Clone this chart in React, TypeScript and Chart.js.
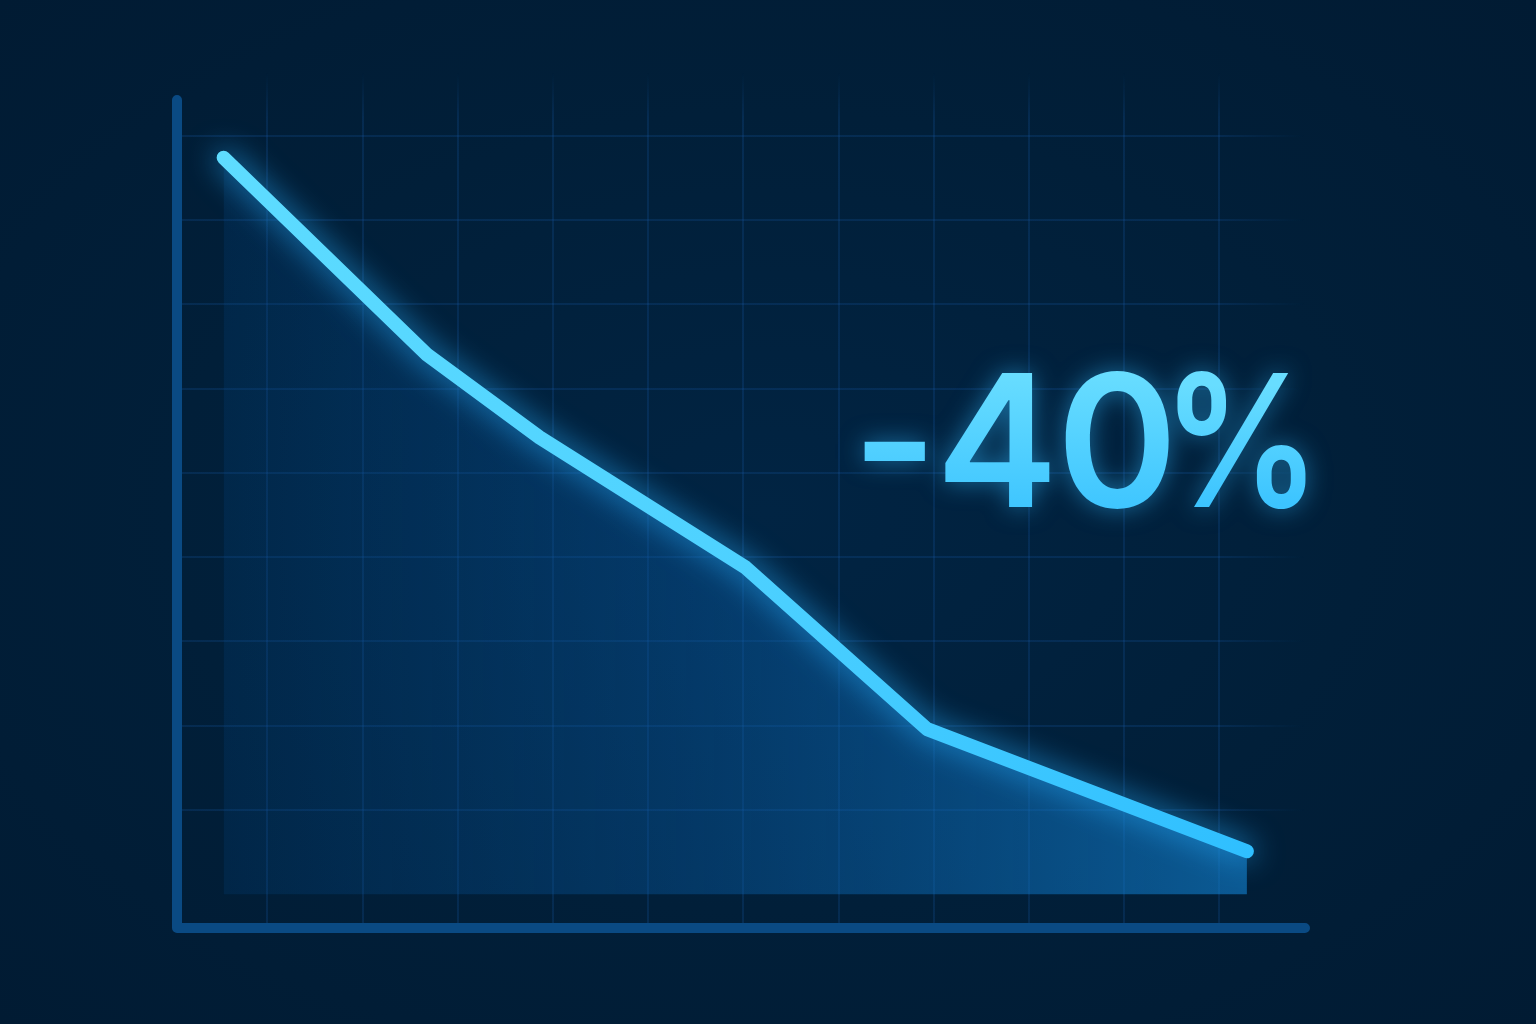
import { useEffect, useRef } from 'react';
import Chart from 'chart.js/auto';

// grid units: x step ~95px, y step ~84px
const xValues = [-0.46, 1.68, 2.86, 5.02, 6.93, 10.29];
const yValues = [8.74, 6.4, 5.42, 3.88, 1.96, 0.51];
const headlineValue = '-40';
const headlineUnit = '%';

const BG = '#011f39';

const glowPlugin = {
  id: 'glow',
  beforeDatasetDraw(chart: any) {
    const ctx = chart.ctx;
    ctx.save();
    ctx.shadowColor = 'rgba(40, 175, 255, 0.8)';
    ctx.shadowBlur = 30;
  },
  afterDatasetDraw(chart: any) {
    chart.ctx.restore();
  },
};

const axesPlugin = {
  id: 'axes',
  beforeDatasetsDraw(chart: any) {
    const { ctx, chartArea } = chart;
    const { left, right, bottom } = chartArea;
    ctx.save();
    ctx.strokeStyle = '#0a4a83';
    ctx.lineWidth = 10;
    ctx.lineCap = 'round';
    ctx.lineJoin = 'round';
    ctx.beginPath();
    ctx.moveTo(left, 100);
    ctx.lineTo(left, bottom);
    ctx.lineTo(right, bottom);
    ctx.stroke();
    ctx.restore();
  },
};

const App = () => {
  const chartRef = useRef<HTMLCanvasElement>(null);
  const chartInstance = useRef<Chart | null>(null);

  useEffect(() => {
    if (!chartRef.current) return;
    const ctx = chartRef.current.getContext('2d');
    if (!ctx) return;

    if (chartInstance.current) {
      chartInstance.current.destroy();
    }

    const points = xValues.map((x, i) => ({ x, y: yValues[i] }));

    chartInstance.current = new Chart(ctx, {
      type: 'line',
      data: {
        datasets: [{
          data: points,
          borderWidth: 14,
          borderCapStyle: 'round',
          borderJoinStyle: 'round',
          tension: 0,
          pointRadius: 0,
          fill: { value: 0 },
          borderColor: (c: any) => {
            const area = c.chart.chartArea;
            if (!area) return '#45cfff';
            const g = c.chart.ctx.createLinearGradient(220, 150, 1250, 860);
            g.addColorStop(0, '#5edcff');
            g.addColorStop(0.5, '#4fd2ff');
            g.addColorStop(1, '#2fbfff');
            return g;
          },
          backgroundColor: (c: any) => {
            const area = c.chart.chartArea;
            if (!area) return 'rgba(10,90,160,0.4)';
            const g = c.chart.ctx.createLinearGradient(214, 0, 1252, 0);
            g.addColorStop(0, 'rgba(5, 75, 140, 0.2)');
            g.addColorStop(0.45, 'rgba(10, 95, 170, 0.38)');
            g.addColorStop(1, 'rgba(18, 128, 206, 0.62)');
            return g;
          },
        }],
      },
      options: {
        responsive: false,
        animation: false,
        layout: {
          padding: { left: 177, top: 73, right: 231, bottom: 96 },
        },
        plugins: {
          legend: { display: false },
          tooltip: { enabled: false },
        },
        scales: {
          x: {
            type: 'linear',
            min: -0.95,
            max: 10.9,
            ticks: { display: false, stepSize: 1, includeBounds: false },
            border: { display: false },
            grid: {
              drawTicks: false,
              lineWidth: 2,
              color: (c: any) => {
                const area = c.chart.chartArea;
                if (!area) return 'rgba(25,90,170,0.22)';
                const g = c.chart.ctx.createLinearGradient(0, area.top, 0, area.top + 45);
                g.addColorStop(0, 'rgba(25, 90, 170, 0)');
                g.addColorStop(1, 'rgba(25, 90, 170, 0.22)');
                return g;
              },
            },
          },
          y: {
            type: 'linear',
            min: -0.4,
            max: 9.745,
            ticks: { display: false, stepSize: 1, includeBounds: false },
            border: { display: false },
            grid: {
              drawTicks: false,
              lineWidth: 2,
              color: (c: any) => {
                if (c.tick && c.tick.value === 0) return 'rgba(0,0,0,0)';
                const area = c.chart.chartArea;
                if (!area) return 'rgba(25,90,170,0.22)';
                const g = c.chart.ctx.createLinearGradient(area.right - 90, 0, area.right, 0);
                g.addColorStop(0, 'rgba(25, 90, 170, 0.22)');
                g.addColorStop(1, 'rgba(25, 90, 170, 0)');
                return g;
              },
            },
          },
        },
      },
      plugins: [axesPlugin, glowPlugin],
    });

    return () => {
      if (chartInstance.current) {
        chartInstance.current.destroy();
        chartInstance.current = null;
      }
    };
  }, []);

  return (
    <div
      style={{
        position: 'fixed',
        inset: 0,
        background: `radial-gradient(ellipse at 50% 50%, #012443 0%, ${BG} 55%, #011b33 100%)`,
        overflow: 'hidden',
      }}
    >
      <canvas
        ref={chartRef}
        width={1536}
        height={1024}
        style={{ position: 'absolute', left: 0, top: 0, width: 1536, height: 1024 }}
      />
      <div
        style={{
          position: 'absolute',
          left: 852,
          top: 348,
          fontFamily: 'Inter, "Noto Sans", sans-serif',
          fontWeight: 600,
          fontSize: 184,
          lineHeight: 1,
          letterSpacing: '-0.01em',
          whiteSpace: 'nowrap',
          filter: 'drop-shadow(0 0 12px rgba(50, 185, 255, 0.5))',
        }}
      >
        <span
          style={{
            background: 'linear-gradient(180deg, #68ddff 20%, #3cc4ff 85%)',
            WebkitBackgroundClip: 'text',
            backgroundClip: 'text',
            color: 'transparent',
          }}
        >
          {headlineValue}
        </span>
        <span
          style={{
            display: 'inline-block',
            marginLeft: -14,
            transform: 'scaleX(0.86)',
            transformOrigin: 'left center',
            background: 'linear-gradient(180deg, #68ddff 20%, #3cc4ff 85%)',
            WebkitBackgroundClip: 'text',
            backgroundClip: 'text',
            color: 'transparent',
          }}
        >
          {headlineUnit}
        </span>
      </div>
    </div>
  );
};

export default App;
